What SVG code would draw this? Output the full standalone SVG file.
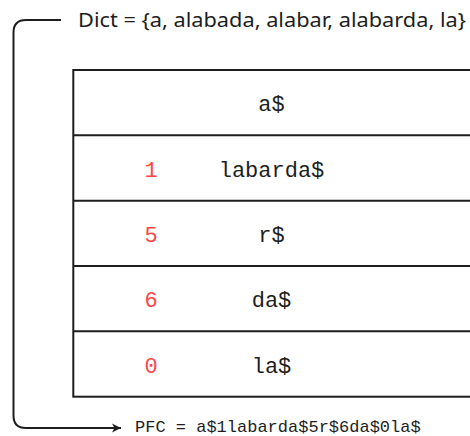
<svg xmlns="http://www.w3.org/2000/svg" width="470" height="436" viewBox="0 0 470 436">
<style>
.line{fill:none;stroke:#1e1e1e;stroke-width:2}
.mono{font-family:"Liberation Mono","DejaVu Sans Mono",monospace;fill:#1e1e1e}
.cell{font-size:22px;text-anchor:middle}
.num{font-size:22px;text-anchor:middle;fill:#ff4545}
.sans{font-family:"Noto Sans","Open Sans","Liberation Sans",sans-serif;fill:#1e1e1e;font-size:20px}
</style>
<defs>
<marker id="ah" markerWidth="12" markerHeight="12" refX="9" refY="6" orient="auto" markerUnits="userSpaceOnUse">
<path d="M0,1.5 L9,6 L0,10.5 L2.5,6 Z" fill="#1e1e1e"/>
</marker>
</defs>
<rect width="470" height="436" fill="#ffffff"/>
<g id="dict-label">
<text class="sans" x="78" y="27" textLength="388" lengthAdjust="spacingAndGlyphs">Dict = {a, alabada, alabar, alabarda, la}</text>
</g>
<g id="table">
<rect class="line" x="73.3" y="70" width="400" height="326.7"/>
<line class="line" x1="73.3" y1="135.3" x2="472" y2="135.3"/>
<line class="line" x1="73.3" y1="200.7" x2="472" y2="200.7"/>
<line class="line" x1="73.3" y1="266" x2="472" y2="266"/>
<line class="line" x1="73.3" y1="331.3" x2="472" y2="331.3"/>
</g>
<g id="row1"><text class="mono cell" x="271.5" y="111.4">a$</text></g>
<g id="row2"><text class="mono num" x="151" y="176.7">1</text><text class="mono cell" x="271.5" y="176.7">labarda$</text></g>
<g id="row3"><text class="mono num" x="151" y="242">5</text><text class="mono cell" x="271.5" y="242">r$</text></g>
<g id="row4"><text class="mono num" x="151" y="307.4">6</text><text class="mono cell" x="271.5" y="307.4">da$</text></g>
<g id="row5"><text class="mono num" x="151" y="372.7">0</text><text class="mono cell" x="271.5" y="372.7">la$</text></g>
<g id="connectors">
<path class="line" d="M61,20 L26,20 Q13.5,20 13.5,32.5 L13.5,415.5 Q13.5,428 26,428 L121,428" marker-end="url(#ah)"/>
</g>
<g id="pfc-label">
<text class="mono" x="135" y="432" font-size="17">PFC = a$1labarda$5r$6da$0la$</text>
</g>
</svg>
